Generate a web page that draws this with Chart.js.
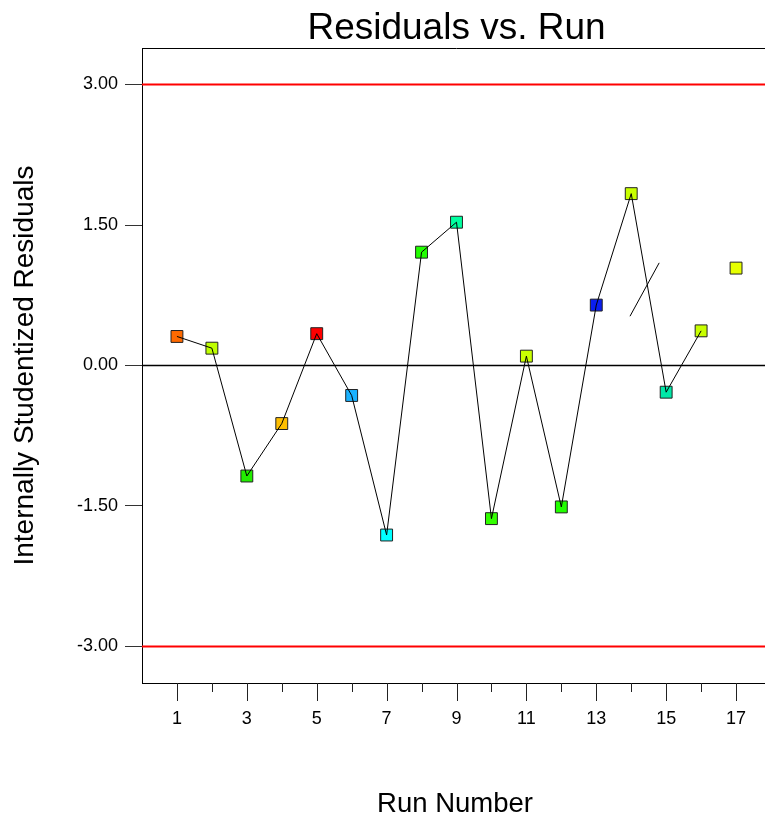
<!DOCTYPE html>
<html>
<head>
<meta charset="utf-8">
<title>Residuals vs. Run</title>
<script src="https://cdn.jsdelivr.net/npm/chart.js@4/dist/chart.umd.min.js"></script>
<style>
  html, body { margin: 0; padding: 0; background: #fff; overflow: hidden; }
  #wrap { width: 771px; height: 819px; }
</style>
</head>
<body>
<div id="wrap"><canvas id="chart" width="771" height="819"></canvas></div>
<script>
// Run order and internally studentized residuals
const runs = [1, 2, 3, 4, 5, 6, 7, 8, 9, 10, 11, 12, 13, 14, 15, 16, 17];
const residuals = [0.31, 0.185, -1.18, -0.62, 0.34, -0.32, -1.81, 1.21, 1.53,
                   -1.635, 0.10, -1.51, 0.645, 1.835, -0.285, 0.37, 1.04];
// Colour of each run's marker
const pointColors = ['#FF6A00', '#BFFF00', '#22EE00', '#FFBF00', '#FF0000', '#1AB2FF',
                     '#00FFFF', '#22FF00', '#00FFA0', '#33FF00', '#C8FF00', '#22FF00',
                     '#0A1EF0', '#C8FF00', '#00E8A8', '#C8FF00', '#E6FF00'];
// Runs joined by the connecting trace
const tracedRuns = 16;
// Short free segment between runs 14 and 15
const segmentX = [13.965, 14.80];
const segmentY = [0.526, 1.096];
// Control limits and centre line
const limitValues = [3, -3];
const centerValue = 0;
// Axis ticks
const yTickValues = [-3, -1.5, 0, 1.5, 3];
const xTickValues = [1, 2, 3, 4, 5, 6, 7, 8, 9, 10, 11, 12, 13, 14, 15, 16, 17];
const xRange = [0, 18];
const yRange = [-3.39, 3.39];

const FONT = '"Liberation Sans", Arial, sans-serif';

const pts = runs.map((r, i) => ({ x: r, y: residuals[i] }));
const hline = v => [{ x: xRange[0], y: v }, { x: xRange[1], y: v }];

// Titles, frame and x tick marks
const decorations = {
  id: 'decorations',
  afterDraw(chart) {
    const { ctx, chartArea: a } = chart;
    const xs = chart.scales.x;
    ctx.save();
    // top frame line
    ctx.strokeStyle = '#000';
    ctx.lineWidth = 1;
    ctx.beginPath();
    ctx.moveTo(a.left, a.top + 0.5);
    ctx.lineTo(a.right, a.top + 0.5);
    ctx.stroke();
    // x tick marks: long on labelled runs, short between
    ctx.strokeStyle = '#222';
    xTickValues.forEach(v => {
      const px = Math.round(xs.getPixelForValue(v)) + 0.5;
      const len = v % 2 === 1 ? 18 : 9;
      ctx.beginPath();
      ctx.moveTo(px, a.bottom);
      ctx.lineTo(px, a.bottom + len);
      ctx.stroke();
    });
    const cx = (a.left + a.right) / 2;
    const cy = (a.top + a.bottom) / 2;
    ctx.fillStyle = '#000';
    ctx.textAlign = 'center';
    ctx.textBaseline = 'alphabetic';
    ctx.font = '37px ' + FONT;
    ctx.fillText('Residuals vs. Run', cx, 39);
    ctx.font = '27.5px ' + FONT;
    ctx.fillText('Run Number', cx - 1.5, 812);
    ctx.translate(33, cy);
    ctx.rotate(-Math.PI / 2);
    ctx.font = '28px ' + FONT;
    ctx.fillText('Internally Studentized Residuals', 0, 0);
    ctx.restore();
  }
};

new Chart(document.getElementById('chart'), {
  type: 'scatter',
  data: {
    datasets: [
      { data: hline(limitValues[0]), showLine: true, borderColor: '#FF0000', borderWidth: 2,
        pointRadius: 0, order: 5 },
      { data: hline(limitValues[1]), showLine: true, borderColor: '#FF0000', borderWidth: 2,
        pointRadius: 0, order: 5 },
      { data: hline(centerValue), showLine: true, borderColor: '#000', borderWidth: 1.6,
        pointRadius: 0, order: 4 },
      { data: pts, showLine: false, pointStyle: 'rect', pointRadius: 8.4, pointHoverRadius: 8.4,
        pointBackgroundColor: pointColors, pointBorderColor: '#222', pointBorderWidth: 1, order: 3 },
      { data: pts.slice(0, tracedRuns), showLine: true, borderColor: '#000', borderWidth: 1,
        pointRadius: 0, order: 1 },
      { data: segmentX.map((x, i) => ({ x, y: segmentY[i] })), showLine: true,
        borderColor: '#000', borderWidth: 1, pointRadius: 0, order: 1 }
    ]
  },
  options: {
    responsive: false,
    animation: false,
    layout: { autoPadding: false, padding: { top: 48, right: 0, left: 0, bottom: 0 } },
    plugins: { legend: { display: false }, tooltip: { enabled: false }, title: { display: false } },
    scales: {
      x: {
        type: 'linear', min: xRange[0], max: xRange[1],
        afterFit(s) { s.height = 136; s.paddingLeft = 0; s.paddingRight = 0; },
        afterBuildTicks(s) { s.ticks = xTickValues.map(v => ({ value: v })); },
        grid: { display: true, drawOnChartArea: false, drawTicks: false },
        border: { display: true, color: '#000', width: 1 },
        ticks: {
          autoSkip: false, maxRotation: 0, padding: 25, color: '#000',
          font: { family: FONT, size: 18 },
          callback: v => (v % 2 === 1 ? String(v) : '')
        }
      },
      y: {
        type: 'linear', min: yRange[0], max: yRange[1],
        afterFit(s) { s.width = 142; },
        afterBuildTicks(s) { s.ticks = yTickValues.map(v => ({ value: v })); },
        grid: { display: true, drawOnChartArea: false, drawTicks: true, tickLength: 17,
                tickColor: '#333', tickWidth: 1 },
        border: { display: true, color: '#000', width: 1 },
        ticks: {
          padding: 7, color: '#000',
          font: { family: FONT, size: 18 },
          callback: v => v.toFixed(2)
        }
      }
    }
  },
  plugins: [decorations]
});
</script>
</body>
</html>
